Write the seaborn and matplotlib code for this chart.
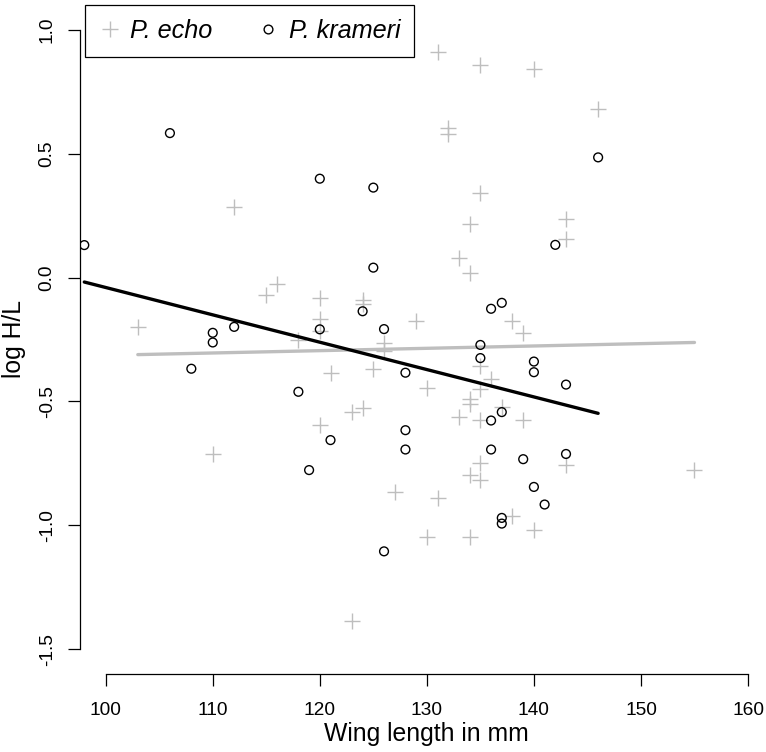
import matplotlib
matplotlib.use("Agg")
import matplotlib.pyplot as plt
from matplotlib.lines import Line2D
import seaborn as sns
import pandas as pd

# ---- data ----
echo_wing = [131, 135, 140, 146, 132, 132, 135, 112, 134, 143, 143, 133, 134,
             116, 115, 120, 124, 124, 120, 129, 138, 103, 120, 139, 118, 126,
             126, 135, 125, 121, 136, 130, 135, 134, 134, 137, 124, 123, 133,
             135, 139, 120, 110, 135, 143, 155, 134, 135, 127, 131, 138, 140,
             130, 134, 123]
echo_loghl = [0.912, 0.859, 0.843, 0.682, 0.605, 0.578, 0.342, 0.286, 0.218,
              0.235, 0.157, 0.080, 0.018, -0.028, -0.072, -0.082, -0.092,
              -0.105, -0.169, -0.174, -0.175, -0.199, -0.214, -0.223, -0.250,
              -0.263, -0.296, -0.357, -0.368, -0.385, -0.410, -0.446, -0.450,
              -0.492, -0.512, -0.523, -0.528, -0.543, -0.562, -0.575, -0.575,
              -0.594, -0.714, -0.750, -0.755, -0.775, -0.795, -0.818, -0.867,
              -0.890, -0.964, -1.017, -1.048, -1.048, -1.388]

kram_wing = [98, 106, 120, 125, 146, 142, 125, 137, 136, 124, 110, 112, 120,
             126, 110, 135, 135, 140, 108, 140, 128, 143, 118, 137, 136, 128,
             121, 128, 136, 143, 139, 119, 140, 141, 137, 137, 126]
kram_loghl = [0.131, 0.583, 0.399, 0.363, 0.485, 0.132, 0.040, -0.102, -0.126,
              -0.136, -0.223, -0.199, -0.209, -0.208, -0.262, -0.272, -0.325,
              -0.339, -0.368, -0.382, -0.384, -0.432, -0.461, -0.543, -0.577,
              -0.616, -0.656, -0.694, -0.694, -0.712, -0.733, -0.777, -0.845,
              -0.916, -0.970, -0.993, -1.105]

# fitted lines (end points)
echo_fit_x = [103, 155]
echo_fit_y = [-0.311, -0.262]
kram_fit_x = [98, 146]
kram_fit_y = [-0.018, -0.548]

x_ticks = [100, 110, 120, 130, 140, 150, 160]
y_ticks = [1.0, 0.5, 0.0, -0.5, -1.0, -1.5]
y_tick_labels = ["1.0", "0.5", "0.0", "-0.5", "-1.0", "-1.5"]
species = ["P. echo", "P. krameri"]

sns.set_style("white")
plt.rcParams["font.family"] = ["Liberation Sans", "DejaVu Sans"]
plt.rcParams["axes.unicode_minus"] = False
plt.rcParams["text.color"] = "black"
plt.rcParams["axes.labelcolor"] = "black"

W, H = 766, 752
fig = plt.figure(figsize=(W / 100, H / 100), dpi=100)
ax = fig.add_axes([80 / W, (H - 674) / H, (773.7 - 80) / W, (674 - 5) / H])

echo_df = pd.DataFrame({"wing": echo_wing, "loghl": echo_loghl})
kram_df = pd.DataFrame({"wing": kram_wing, "loghl": kram_loghl})
grey = "#BEBEBE"

sns.scatterplot(data=echo_df, x="wing", y="loghl", marker="+", color=grey,
                s=120, linewidth=1.0, ax=ax, zorder=2)
sns.scatterplot(data=kram_df, x="wing", y="loghl", marker="o",
                facecolors="none", edgecolor="black", s=40, linewidth=1.0,
                ax=ax, zorder=3)

sns.lineplot(x=echo_fit_x, y=echo_fit_y, color=grey, linewidth=2.4, ax=ax,
             zorder=2)
sns.lineplot(x=kram_fit_x, y=kram_fit_y, color="black", linewidth=2.4, ax=ax,
             zorder=4)

ax.set_xlim(97.6, 162.4)
ax.set_ylim(-1.6, 1.1)
ax.set_xticks(x_ticks)
ax.set_xticklabels([str(t) for t in x_ticks])
ax.set_yticks(y_ticks)
ax.set_yticklabels(y_tick_labels, rotation=90, va="center")

for s in ["top", "right"]:
    ax.spines[s].set_visible(False)
ax.spines["left"].set_bounds(-1.5, 1.0)
ax.spines["bottom"].set_bounds(100, 160)
for s in ["left", "bottom"]:
    ax.spines[s].set_color("black")
    ax.spines[s].set_linewidth(0.9)

ax.tick_params(axis="both", which="major", direction="out", length=8.5,
               width=0.9, color="black", labelsize=13.8, labelcolor="black",
               bottom=True, left=True, top=False, right=False)
ax.tick_params(axis="x", pad=12)
ax.tick_params(axis="y", pad=9)

ax.set_xlabel("Wing length in mm", fontsize=17.8, labelpad=2, color="black")
ax.set_ylabel("log H/L", fontsize=17.8, labelpad=9, color="black")

handles = [
    Line2D([], [], linestyle="none", marker="+", color=grey, markersize=11,
           markeredgewidth=1.0),
    Line2D([], [], linestyle="none", marker="o", markerfacecolor="none",
           markeredgecolor="black", markersize=6.3, markeredgewidth=1.0),
]
leg = ax.legend(handles, species, loc="upper left", ncol=2,
                bbox_to_anchor=(85 / W, 1 - 5 / H), bbox_transform=fig.transFigure,
                prop={"style": "italic", "size": 18.2}, frameon=True,
                fancybox=False, edgecolor="black", framealpha=1,
                borderaxespad=0, borderpad=0.55, handlelength=0.85,
                handletextpad=0.4, columnspacing=1.75)
leg.get_frame().set_linewidth(0.9)
for t in leg.get_texts():
    t.set_color("black")

fig.savefig("out.png", dpi=100)
